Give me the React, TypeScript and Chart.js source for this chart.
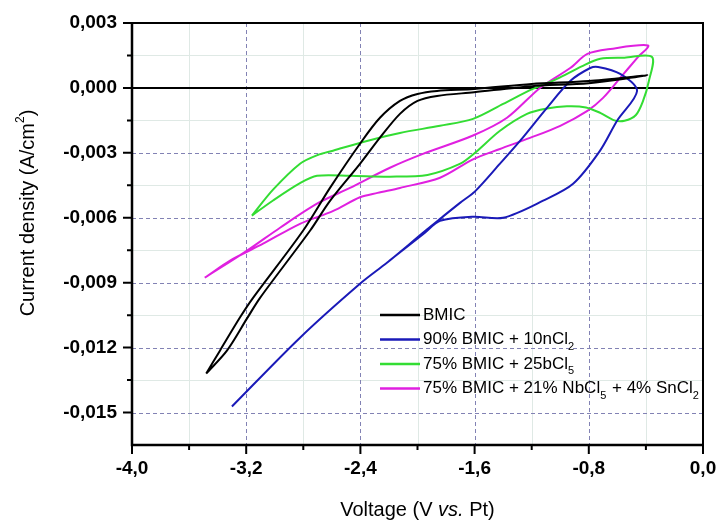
import React, { useEffect, useRef } from 'react';
import { Chart, registerables } from 'chart.js';

Chart.register(...registerables);

const FONT = "'Liberation Sans', Arial, Helvetica, sans-serif";

// ---- axis ticks ----
const xTicks = [-4, -3.2, -2.4, -1.6, -0.8, 0];
const xMinorTicks = [-3.6, -2.8, -2.0, -1.2, -0.4];
const yTicks = [-0.015, -0.012, -0.009, -0.006, -0.003, 0, 0.003];
const yMinorTicks = [-0.0135, -0.0105, -0.0075, -0.0045, -0.0015, 0.0015];

// ---- series: BMIC ----
const bmicV = [-3.48, -3.384, -3.243, -3.152, -2.802, -2.613, -2.403, -2.263, -2.123, -2.0, -1.863, -1.604, -1.2, -0.8, -0.39, -0.8, -1.2, -1.604, -1.863, -2.0, -2.123, -2.263, -2.403, -2.613, -2.753, -3.103, -3.194, -3.335, -3.48];
const bmicI = [-0.0132, -0.01214, -0.0106, -0.0097, -0.0066, -0.00462, -0.00258, -0.00138, -0.0006, -0.00028, -0.00014, -0.00005, 0.00018, 0.00032, 0.00058, 0.00022, 0.00008, -0.0002, -0.00037, -0.0006, -0.0012, -0.0023, -0.00351, -0.00522, -0.0066, -0.0097, -0.01065, -0.01214, -0.0132];

// ---- series: 90% BMIC + 10nCl2 ----
const snV = [-3.30, -2.823, -2.403, -2.214, -2.053, -1.93, -1.842, -1.70, -1.597, -1.422, -1.282, -1.093, -0.93, -0.79, -0.735, -0.58, -0.462, -0.602, -0.722, -0.91, -1.12, -1.40, -1.61, -1.842, -1.95, -2.2];
const snI = [-0.01472, -0.01154, -0.00905, -0.00808, -0.0072, -0.00652, -0.00605, -0.0053, -0.00478, -0.0035, -0.00245, -0.00092, 0.00032, 0.00092, 0.00097, 0.00065, -0.00014, -0.00152, -0.00291, -0.00443, -0.00521, -0.006, -0.00595, -0.00614, -0.0067, -0.008];

// ---- series: 75% BMIC + 25bCl5 ----
const nbV = [-3.16, -3.012, -2.823, -2.7, -2.592, -2.354, -2.123, -1.842, -1.611, -1.40, -1.20, -1.023, -0.85, -0.72, -0.55, -0.357, -0.38, -0.42, -0.47, -0.55, -0.62, -0.72, -0.82, -0.953, -1.093, -1.233, -1.422, -1.597, -1.70, -1.93, -2.193, -2.473, -2.704, -2.823, -3.012, -3.16];
const nbI = [-0.0059, -0.0047, -0.0035, -0.0031, -0.0029, -0.00245, -0.00208, -0.00175, -0.00143, -0.00074, -0.00007, 0.00042, 0.001, 0.00135, 0.0014, 0.00143, 0.0003, -0.0006, -0.00125, -0.00152, -0.0015, -0.00115, -0.0009, -0.00085, -0.00095, -0.0012, -0.00198, -0.003, -0.0035, -0.00402, -0.0041, -0.00406, -0.00406, -0.0044, -0.0052, -0.0059];

// ---- series: 75% BMIC + 21% NbCl5 + 4% SnCl2 ----
const mixV = [-3.49, -3.194, -2.963, -2.704, -2.473, -2.193, -1.962, -1.611, -1.373, -1.142, -0.93, -0.81, -0.65, -0.385, -0.462, -0.58, -0.70, -0.81, -1.0, -1.212, -1.422, -1.611, -1.842, -2.123, -2.28, -2.403, -2.59, -2.823, -3.082, -3.313, -3.49];
const mixI = [-0.00877, -0.00752, -0.00646, -0.00535, -0.00462, -0.00369, -0.00305, -0.0022, -0.00138, 0.0, 0.00092, 0.00157, 0.0018, 0.00196, 0.00138, 0.00046, -0.00046, -0.00106, -0.00175, -0.00231, -0.00282, -0.0033, -0.00415, -0.00462, -0.00485, -0.00505, -0.00568, -0.00628, -0.0072, -0.00798, -0.00877];

const seriesColors = ['#000000', '#1a1ab8', '#33dd33', '#e020e0'];
// legend labels: [text, subscript] segments
const legendLabels: Array<Array<[string, boolean]>> = [
  [['BMIC', false]],
  [['90% BMIC + 10nCl', false], ['2', true]],
  [['75% BMIC + 25bCl', false], ['5', true]],
  [['75% BMIC + 21% NbCl', false], ['5', true], [' + 4% SnCl', false], ['2', true]],
];
const seriesNames = ['BMIC', '90% BMIC + 10nCl₂', '75% BMIC + 25bCl₅', '75% BMIC + 21% NbCl₅ + 4% SnCl₂'];

const toPts = (xs: number[], ys: number[]) => xs.map((v, i) => ({ x: v, y: ys[i] }));

const fmt = (v: number, d: number) => {
  const s = Math.abs(v) < 1e-12 ? (0).toFixed(d) : v.toFixed(d);
  return s.replace('.', ',');
};

const overlay = {
  id: 'overlay',
  beforeDatasetsDraw(chart: any) {
    const { ctx, chartArea: a, scales } = chart;
    const x = scales.x, y = scales.y;
    ctx.save();
    // minor grid
    ctx.strokeStyle = '#dfe9e5';
    ctx.lineWidth = 1;
    ctx.beginPath();
    for (const v of xMinorTicks) {
      const p = Math.round(x.getPixelForValue(v)) + 0.5;
      ctx.moveTo(p, a.top); ctx.lineTo(p, a.bottom);
    }
    for (const v of yMinorTicks) {
      const p = Math.round(y.getPixelForValue(v)) + 0.5;
      ctx.moveTo(a.left, p); ctx.lineTo(a.right, p);
    }
    ctx.stroke();
    // major grid dashed
    ctx.strokeStyle = '#8282b4';
    ctx.setLineDash([4, 3]);
    ctx.beginPath();
    for (const v of xTicks) {
      if (v === -4 || v === 0) continue;
      const p = Math.round(x.getPixelForValue(v)) + 0.5;
      ctx.moveTo(p, a.top); ctx.lineTo(p, a.bottom);
    }
    for (const v of yTicks) {
      if (v === 0 || v === 0.003) continue;
      const p = Math.round(y.getPixelForValue(v)) + 0.5;
      ctx.moveTo(a.left, p); ctx.lineTo(a.right, p);
    }
    ctx.stroke();
    ctx.setLineDash([]);
    // zero line
    ctx.strokeStyle = '#000';
    ctx.lineWidth = 2;
    ctx.beginPath();
    const z = y.getPixelForValue(0);
    ctx.moveTo(a.left, z); ctx.lineTo(a.right, z);
    ctx.stroke();
    ctx.restore();
  },
  afterDatasetsDraw(chart: any) {
    const { ctx, chartArea: a, scales } = chart;
    const x = scales.x, y = scales.y;
    ctx.save();
    // frame
    ctx.strokeStyle = '#000';
    ctx.lineWidth = 2;
    ctx.beginPath();
    ctx.moveTo(a.left, a.top); ctx.lineTo(a.right, a.top); ctx.lineTo(a.right, a.bottom);
    ctx.stroke();
    ctx.lineWidth = 2.5;
    ctx.beginPath();
    ctx.moveTo(a.left, a.top - 1); ctx.lineTo(a.left, a.bottom); ctx.lineTo(a.right + 1, a.bottom);
    ctx.stroke();
    // ticks
    ctx.lineWidth = 2;
    ctx.beginPath();
    for (const v of yTicks) {
      const p = y.getPixelForValue(v);
      ctx.moveTo(a.left, p); ctx.lineTo(a.left - 9, p);
    }
    for (const v of yMinorTicks) {
      const p = y.getPixelForValue(v);
      ctx.moveTo(a.left, p); ctx.lineTo(a.left - 5, p);
    }
    for (const v of xTicks) {
      const p = x.getPixelForValue(v);
      ctx.moveTo(p, a.bottom); ctx.lineTo(p, a.bottom + 9);
    }
    for (const v of xMinorTicks) {
      const p = x.getPixelForValue(v);
      ctx.moveTo(p, a.bottom); ctx.lineTo(p, a.bottom + 5);
    }
    ctx.stroke();

    // legend
    const lx0 = 380, lx1 = 420, tx = 423;
    legendLabels.forEach((segs, i) => {
      const ly = 315 + i * 24.5;
      ctx.strokeStyle = seriesColors[i];
      ctx.lineWidth = 2.5;
      ctx.beginPath();
      ctx.moveTo(lx0, ly); ctx.lineTo(lx1, ly);
      ctx.stroke();
      ctx.fillStyle = '#000';
      ctx.textBaseline = 'middle';
      ctx.textAlign = 'left';
      let cx = tx;
      for (const [t, sub] of segs) {
        ctx.font = sub ? `11px ${FONT}` : `17px ${FONT}`;
        ctx.fillText(t, cx, sub ? ly + 7 : ly);
        cx += ctx.measureText(t).width + (sub ? 1 : 0);
      }
    });

    // y title
    ctx.save();
    ctx.translate(28, 213);
    ctx.rotate(-Math.PI / 2);
    ctx.fillStyle = '#000';
    ctx.textBaseline = 'middle';
    ctx.textAlign = 'left';
    const ySegs: Array<[string, string, number]> = [
      ['Current density (A/cm', `20px ${FONT}`, 0],
      ['2', `12px ${FONT}`, -7],
      [')', `20px ${FONT}`, 0],
    ];
    let tw = 0;
    for (const [t, f] of ySegs) { ctx.font = f; tw += ctx.measureText(t).width; }
    let cx = -tw / 2;
    for (const [t, f, dy] of ySegs) {
      ctx.font = f; ctx.fillText(t, cx, dy); cx += ctx.measureText(t).width;
    }
    ctx.restore();

    // x title
    const xSegs: Array<[string, string]> = [
      ['Voltage (V ', `20px ${FONT}`],
      ['vs.', `italic 20px ${FONT}`],
      [' Pt)', `20px ${FONT}`],
    ];
    tw = 0;
    for (const [t, f] of xSegs) { ctx.font = f; tw += ctx.measureText(t).width; }
    cx = (a.left + a.right) / 2 - tw / 2;
    ctx.fillStyle = '#000';
    ctx.textBaseline = 'middle';
    ctx.textAlign = 'left';
    for (const [t, f] of xSegs) {
      ctx.font = f; ctx.fillText(t, cx, 510); cx += ctx.measureText(t).width;
    }
    ctx.restore();
  },
};

export default function App() {
  const ref = useRef<HTMLCanvasElement | null>(null);
  useEffect(() => {
    if (!ref.current) return;
    const seriesData = [toPts(bmicV, bmicI), toPts(snV, snI), toPts(nbV, nbI), toPts(mixV, mixI)];
    const chart = new Chart(ref.current, {
      type: 'scatter',
      data: {
        datasets: seriesData.map((d, i) => ({
          label: seriesNames[i],
          data: d,
          showLine: true,
          borderColor: seriesColors[i],
          backgroundColor: seriesColors[i],
          borderWidth: 2,
          pointRadius: 0,
          tension: 0.3,
          fill: false,
        })),
      },
      options: {
        animation: false,
        responsive: false,
        devicePixelRatio: 1,
        layout: { padding: { top: 23, right: 16, left: 0, bottom: 0 } },
        plugins: { legend: { display: false }, tooltip: { enabled: false } },
        scales: {
          x: {
            type: 'linear',
            min: -4,
            max: 0,
            afterBuildTicks: (s: any) => { s.ticks = xTicks.map((v) => ({ value: v })); },
            afterFit: (s: any) => { s.height = 79; s.paddingLeft = 0; s.paddingRight = 0; },
            grid: { display: false, drawTicks: false },
            border: { display: false },
            ticks: {
              padding: 12,
              color: '#000',
              font: { family: FONT, size: 19, weight: 'bold' },
              maxRotation: 0,
              autoSkip: false,
              callback: (v: any) => fmt(Number(v), 1),
            },
          },
          y: {
            type: 'linear',
            min: -0.0165,
            max: 0.003,
            afterBuildTicks: (s: any) => { s.ticks = yTicks.map((v) => ({ value: v })); },
            afterFit: (s: any) => { s.width = 132; s.paddingTop = 0; s.paddingBottom = 0; },
            grid: { display: false, drawTicks: false },
            border: { display: false },
            ticks: {
              padding: 15,
              color: '#000',
              font: { family: FONT, size: 19, weight: 'bold' },
              autoSkip: false,
              callback: (v: any) => fmt(Number(v), 3),
            },
          },
        },
      },
      plugins: [overlay],
    } as any);
    return () => chart.destroy();
  }, []);
  return (
    <div style={{ position: 'absolute', left: 0, top: 0, width: 719, height: 524, background: '#fff' }}>
      <canvas ref={ref} width={719} height={524} style={{ display: 'block' }} />
    </div>
  );
}
